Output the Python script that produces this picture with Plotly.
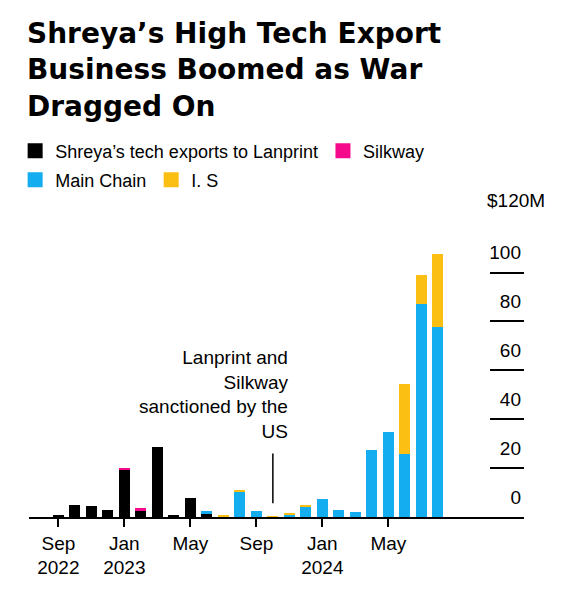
import plotly.graph_objects as go

# monthly exports, $M
months = ["2022-09", "2022-10", "2022-11", "2022-12", "2023-01", "2023-02",
          "2023-03", "2023-04", "2023-05", "2023-06", "2023-07", "2023-08",
          "2023-09", "2023-10", "2023-11", "2023-12", "2024-01", "2024-02",
          "2024-03", "2024-04", "2024-05", "2024-06", "2024-07", "2024-08"]
lanprint = [0.7, 5.1, 4.3, 3.0, 19.4, 2.6, 28.7, 1.0, 7.8, 1.6, 0.3, 0,
            0, 0.2, 0, 0, 0, 0, 0, 0, 0, 0, 0, 0]
silkway = [0, 0, 0, 0, 0.8, 1.0, 0, 0, 0, 0, 0, 0,
           0, 0, 0, 0, 0, 0, 0, 0, 0, 0, 0, 0]
main_chain = [0, 0, 0, 0, 0, 0, 0, 0, 0, 0.7, 0, 10.4,
              2.6, 0, 1.0, 4.3, 7.2, 2.9, 2.1, 27.6, 34.6, 25.6, 87.0, 77.6]
i_s = [0, 0, 0, 0, 0, 0, 0, 0, 0, 0, 0.2, 0.5,
       0, 0.2, 0.6, 0.4, 0, 0, 0, 0, 0, 28.7, 12.0, 30.0]

tick_months = ["2022-09", "2023-01", "2023-05", "2023-09", "2024-01", "2024-05"]
tick_text = ["Sep<br>2022", "Jan<br>2023", "May", "Sep", "Jan<br>2024", "May"]
y_ticks = [0, 20, 40, 60, 80, 100, 120]
y_text = ["0", "20", "40", "60", "80", "100", ""]
top_label = "$120M"

sanction_month = "2023-10"
note = "Lanprint and<br>Silkway<br>sanctioned by the<br>US"

FONT = "Liberation Sans"
x = list(range(len(months)))

series = [
    ("Shreya’s tech exports to Lanprint", lanprint, "#000000", "legend"),
    ("Silkway", silkway, "#f50a8c", "legend"),
    ("Main Chain", main_chain, "#13adf0", "legend2"),
    ("I. S", i_s, "#fbbf13", "legend2"),
]

fig = go.Figure()
for name, vals, col, leg in series:
    fig.add_trace(go.Bar(x=x, y=vals, name=name, marker_color=col,
                         marker_line_width=0, showlegend=False))
    # square legend swatch
    fig.add_trace(go.Scatter(x=[None], y=[None], mode="markers", name=name,
                             marker=dict(symbol="square", size=15, color=col),
                             legend=leg))

sx = months.index(sanction_month)
fig.add_shape(type="line", x0=sx, x1=sx, y0=5.6, y1=26,
              line=dict(color="black", width=1.5))
fig.add_annotation(x=sx, y=30, xshift=17, text=note, showarrow=False,
                   xanchor="right", yanchor="bottom", align="right",
                   font=dict(family=FONT, size=19, color="black"))
# top tick label hangs past the axis
fig.add_annotation(x=1, xref="paper", y=y_ticks[-1], xanchor="right", xshift=23,
                   yanchor="middle", yshift=23, text=top_label, showarrow=False,
                   font=dict(family=FONT, size=19, color="black"))

fig.update_layout(
    width=576, height=600,
    margin=dict(l=21, r=60, t=215, b=91, autoexpand=False),
    paper_bgcolor="white", plot_bgcolor="white",
    barmode="stack", bargap=0.33,
    font=dict(family=FONT, size=18, color="black"),
    title=dict(text="<b>Shreya’s High Tech Export<br>Business Boomed as War<br>Dragged On</b>",
               x=19 / 576, xref="container", xanchor="left",
               y=1 - 35 / 600, yref="container", yanchor="top",
               font=dict(family="DejaVu Sans", size=28, color="black")),
    legend=dict(orientation="h", x=-0.028, xanchor="left",
                y=1.245, yanchor="middle",
                font=dict(family=FONT, size=18, color="black"), itemwidth=30,
                traceorder="normal", tracegroupgap=0, bgcolor="rgba(0,0,0,0)"),
    legend2=dict(orientation="h", x=-0.028, xanchor="left",
                 y=1.146, yanchor="middle",
                 font=dict(family=FONT, size=18, color="black"), itemwidth=30,
                 traceorder="normal", tracegroupgap=0, bgcolor="rgba(0,0,0,0)"),
    xaxis=dict(range=[-1.78, 28.22], tickvals=[months.index(m) for m in tick_months],
               ticktext=tick_text, ticks="outside", ticklen=8, tickwidth=1.5,
               tickcolor="black", showline=True, linecolor="black", linewidth=1.5,
               showgrid=False, zeroline=False, fixedrange=True,
               tickfont=dict(family=FONT, size=19, color="black")),
    yaxis=dict(range=[0, 120.3], side="right", tickvals=y_ticks, ticktext=y_text,
               ticks="inside", ticklen=34, tickwidth=1.5, tickcolor="black",
               ticklabelposition="inside top", ticklabeloverflow="allow",
               ticklabelshift=-6, ticklabelstandoff=0,
               showgrid=False, zeroline=False, showline=False,
               tickfont=dict(family=FONT, size=19, color="black")),
)

fig.write_html("out.html")
